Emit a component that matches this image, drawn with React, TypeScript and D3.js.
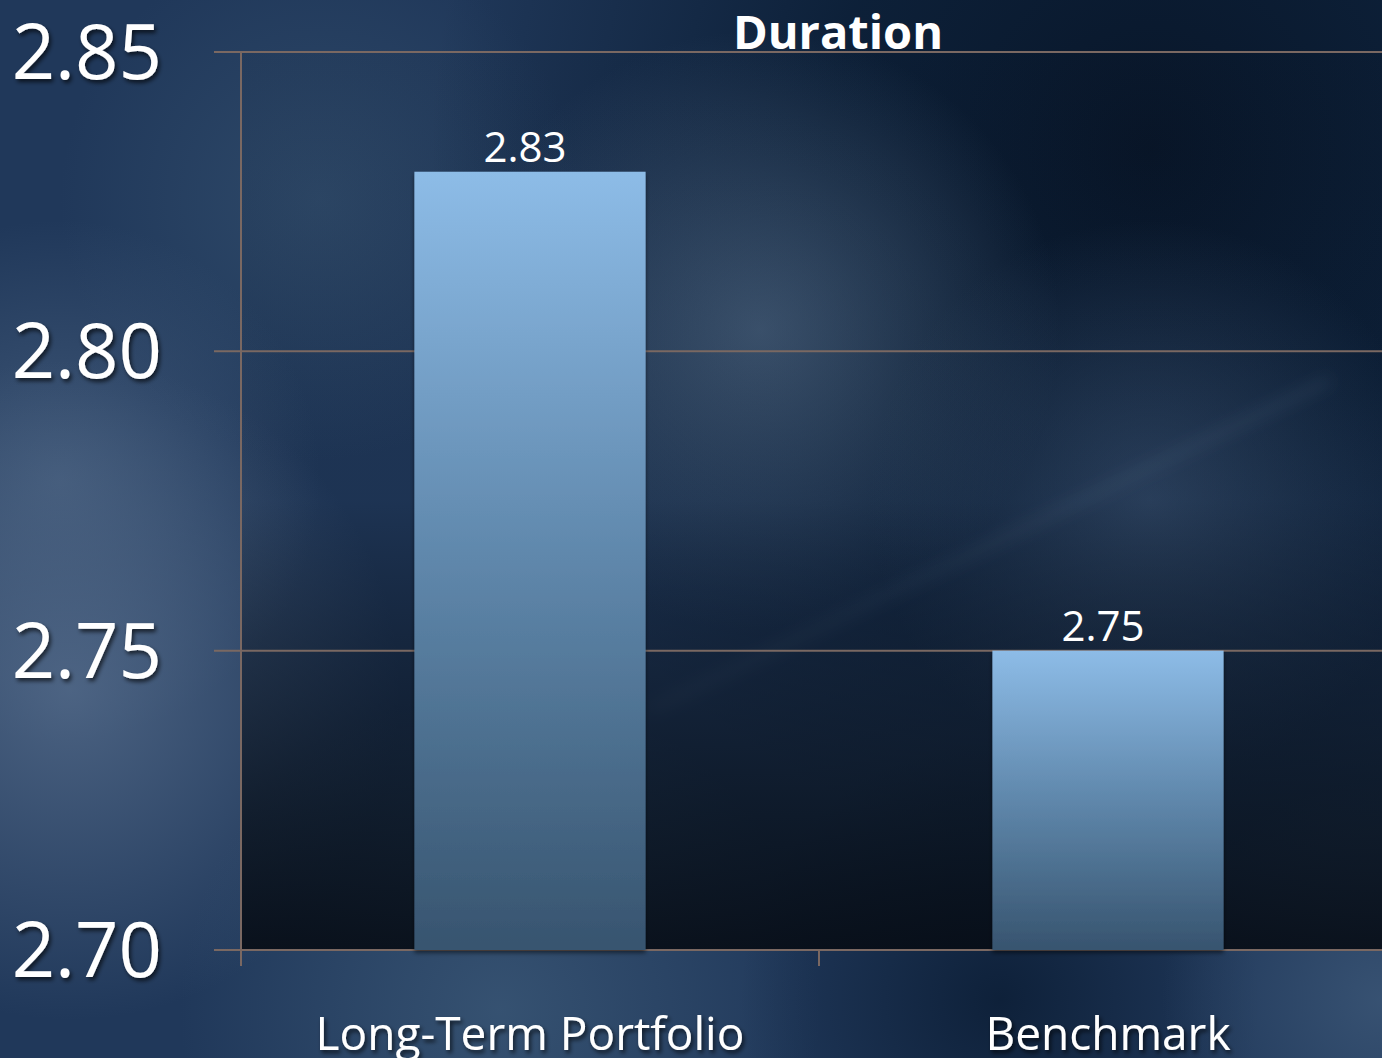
import React from "react";
import * as d3 from "d3";

const categories = ["Long-Term Portfolio", "Benchmark"];
const values = [2.83, 2.75];
const valueLabels = ["2.83", "2.75"];
const yTicks = [2.7, 2.75, 2.8, 2.85];
const yTickLabels = ["2.70", "2.75", "2.80", "2.85"];
const title = "Duration";

const W = 1382;
const H = 1058;

export default function App() {
  const x0 = 241;
  const x1 = 1397;
  const yTop = 52;
  const yBot = 950;

  const y = d3.scaleLinear().domain([2.7, 2.85]).range([yBot, yTop]);
  const xBand = d3
    .scaleBand<string>()
    .domain(categories)
    .range([x0, x1])
    .paddingInner(0.6)
    .paddingOuter(0.3);
  const xStep = d3.scaleBand<string>().domain(categories).range([x0, x1]).padding(0);

  const tickBounds = categories.map((c) => xStep(c) as number);
  const font = "'Open Sans', 'Noto Sans', sans-serif";
  const gridColor = "#7a6862";

  return (
    <svg
      width={W}
      height={H}
      viewBox={`0 0 ${W} ${H}`}
      style={{ position: "absolute", left: 0, top: 0, display: "block" }}
    >
      <defs>
        <linearGradient id="barGrad" x1="0" y1="0" x2="0" y2="1">
          <stop offset="0" stopColor="#8dbce7" />
          <stop offset="0.5" stopColor="#5f87ab" />
          <stop offset="1" stopColor="#37546f" />
        </linearGradient>
        <linearGradient id="plotShade" gradientUnits="userSpaceOnUse" x1="0" y1={yTop} x2="0" y2={yBot}>
          <stop offset="0" stopColor="#050b14" stopOpacity="0.05" />
          <stop offset="0.5" stopColor="#050b14" stopOpacity="0.1" />
          <stop offset="0.66" stopColor="#08101b" stopOpacity="0.45" />
          <stop offset="0.85" stopColor="#08101a" stopOpacity="0.75" />
          <stop offset="1" stopColor="#070d16" stopOpacity="0.92" />
        </linearGradient>
        <radialGradient id="rgLeft" gradientUnits="userSpaceOnUse" cx="70" cy="690" r="330">
          <stop offset="0" stopColor="#566d8c" stopOpacity="0.8" />
          <stop offset="1" stopColor="#566d8c" stopOpacity="0" />
        </radialGradient>
        <radialGradient id="rgLeft2" gradientUnits="userSpaceOnUse" cx="60" cy="480" r="260">
          <stop offset="0" stopColor="#4d6584" stopOpacity="0.7" />
          <stop offset="1" stopColor="#4d6584" stopOpacity="0" />
        </radialGradient>
        <radialGradient id="rgDarkTR" gradientUnits="userSpaceOnUse" cx="1150" cy="150" r="720">
          <stop offset="0" stopColor="#071426" stopOpacity="0.95" />
          <stop offset="0.45" stopColor="#081a30" stopOpacity="0.8" />
          <stop offset="1" stopColor="#081a30" stopOpacity="0" />
        </radialGradient>
        <radialGradient id="rgMid" gradientUnits="userSpaceOnUse" cx="760" cy="330" r="300">
          <stop offset="0" stopColor="#465e7a" stopOpacity="0.85" />
          <stop offset="1" stopColor="#465e7a" stopOpacity="0" />
        </radialGradient>
        <radialGradient id="rgMid2" gradientUnits="userSpaceOnUse" cx="1150" cy="500" r="280">
          <stop offset="0" stopColor="#3a5272" stopOpacity="0.7" />
          <stop offset="1" stopColor="#3a5272" stopOpacity="0" />
        </radialGradient>
        <radialGradient id="rgTL" gradientUnits="userSpaceOnUse" cx="320" cy="200" r="260">
          <stop offset="0" stopColor="#34506f" stopOpacity="0.7" />
          <stop offset="1" stopColor="#34506f" stopOpacity="0" />
        </radialGradient>
        <radialGradient id="rgBotMid" gradientUnits="userSpaceOnUse" cx="1000" cy="1000" r="260">
          <stop offset="0" stopColor="#0c1e36" stopOpacity="0.9" />
          <stop offset="1" stopColor="#0c1e36" stopOpacity="0" />
        </radialGradient>
        <radialGradient id="rgBotLeft" gradientUnits="userSpaceOnUse" cx="500" cy="1010" r="320">
          <stop offset="0" stopColor="#3b5877" stopOpacity="0.8" />
          <stop offset="1" stopColor="#3b5877" stopOpacity="0" />
        </radialGradient>
        <radialGradient id="rgBotRight" gradientUnits="userSpaceOnUse" cx="1382" cy="1000" r="220">
          <stop offset="0" stopColor="#3d5878" stopOpacity="0.8" />
          <stop offset="1" stopColor="#3d5878" stopOpacity="0" />
        </radialGradient>
        <filter id="blur8" x="-20%" y="-20%" width="140%" height="140%">
          <feGaussianBlur stdDeviation="8" />
        </filter>
        <filter id="shadow" x="-10%" y="-30%" width="120%" height="160%">
          <feDropShadow dx="2" dy="3" stdDeviation="2" floodColor="#000000" floodOpacity="0.65" />
        </filter>
        <filter id="barShadow" x="-10%" y="-10%" width="120%" height="120%">
          <feDropShadow dx="0" dy="3" stdDeviation="2" floodColor="#000000" floodOpacity="0.5" />
        </filter>
      </defs>

      {/* background */}
      <rect x={0} y={0} width={W} height={H} fill="#20385a" />
      <rect x={0} y={0} width={W} height={H} fill="url(#rgTL)" />
      <rect x={0} y={0} width={W} height={H} fill="url(#rgLeft2)" />
      <rect x={0} y={0} width={W} height={H} fill="url(#rgLeft)" />
      <rect x={0} y={0} width={W} height={H} fill="url(#rgDarkTR)" />
      <rect x={0} y={0} width={W} height={H} fill="url(#rgMid)" />
      <rect x={0} y={0} width={W} height={H} fill="url(#rgMid2)" />
      <rect x={0} y={0} width={W} height={H} fill="url(#rgBotLeft)" />
      <rect x={0} y={0} width={W} height={H} fill="url(#rgBotMid)" />
      <rect x={0} y={0} width={W} height={H} fill="url(#rgBotRight)" />
      {/* faint diagonal streak */}
      <line x1={650} y1={710} x2={1330} y2={380} stroke="#6f88a6" strokeOpacity={0.25} strokeWidth={6} filter="url(#blur8)" />

      {/* plot area shading */}
      <rect x={x0} y={yTop} width={W - x0} height={yBot - yTop} fill="url(#plotShade)" />

      {/* gridlines */}
      {yTicks.map((t) => (
        <line key={t} x1={214} x2={W} y1={y(t)} y2={y(t)} stroke={gridColor} strokeWidth={2} />
      ))}
      {/* y axis line */}
      <line x1={x0} x2={x0} y1={yTop} y2={yBot + 16} stroke={gridColor} strokeWidth={2} />
      {/* category ticks */}
      {tickBounds.map((b, i) => (
        <line key={i} x1={b} x2={b} y1={yBot} y2={yBot + 16} stroke={gridColor} strokeWidth={2} />
      ))}

      {/* bars */}
      {categories.map((c, i) => (
        <rect
          key={c}
          x={xBand(c)}
          y={y(values[i])}
          width={xBand.bandwidth()}
          height={yBot - y(values[i])}
          fill="url(#barGrad)"
          filter="url(#barShadow)"
        />
      ))}

      {/* value labels */}
      {categories.map((c, i) => (
        <text
          key={c}
          x={(xBand(c) as number) + xBand.bandwidth() / 2 - 5}
          y={y(values[i]) - 10}
          textAnchor="middle"
          fontFamily={font}
          fontSize={42}
          fill="#ffffff"
        >
          {valueLabels[i]}
        </text>
      ))}

      {/* y tick labels */}
      {yTicks.map((t, i) => (
        <text
          key={t}
          x={162}
          y={y(t) + 27}
          textAnchor="end"
          fontFamily={font}
          fontSize={76}
          fill="#ffffff"
          filter="url(#shadow)"
        >
          {yTickLabels[i]}
        </text>
      ))}

      {/* category labels */}
      {categories.map((c) => (
        <text
          key={c}
          x={(xBand(c) as number) + xBand.bandwidth() / 2}
          y={1050}
          textAnchor="middle"
          fontFamily={font}
          fontSize={46}
          fill="#ffffff"
          filter="url(#shadow)"
        >
          {c}
        </text>
      ))}

      {/* title */}
      <text x={838} y={49} textAnchor="middle" fontFamily={font} fontWeight={700} fontSize={47} fill="#ffffff">
        {title}
      </text>
    </svg>
  );
}
